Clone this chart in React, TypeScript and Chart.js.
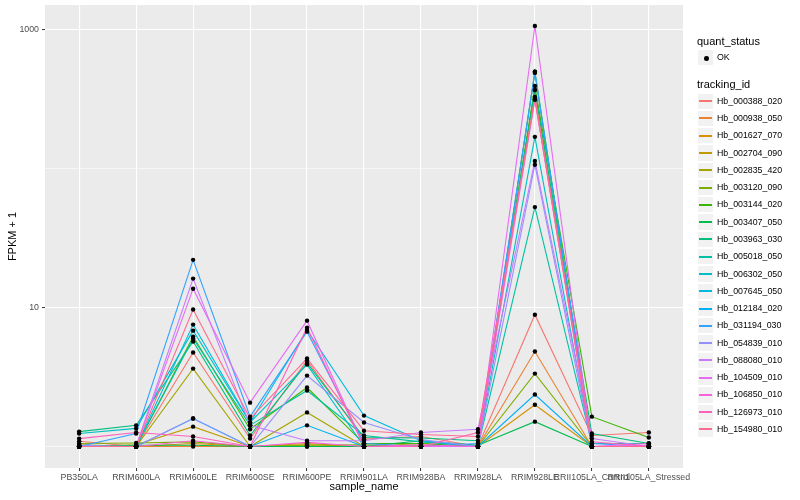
import React, { useEffect, useRef } from "react";
import { Chart, registerables } from "chart.js";

Chart.register(...registerables);

const categories = [
  "PB350LA",
  "RRIM600LA",
  "RRIM600LE",
  "RRIM600SE",
  "RRIM600PE",
  "RRIM901LA",
  "RRIM928BA",
  "RRIM928LA",
  "RRIM928LE",
  "RRII105LA_Control",
  "RRII105LA_Stressed",
];

const trackingIds = [
  "Hb_000388_020",
  "Hb_000938_050",
  "Hb_001627_070",
  "Hb_002704_090",
  "Hb_002835_420",
  "Hb_003120_090",
  "Hb_003144_020",
  "Hb_003407_050",
  "Hb_003963_030",
  "Hb_005018_050",
  "Hb_006302_050",
  "Hb_007645_050",
  "Hb_012184_020",
  "Hb_031194_030",
  "Hb_054839_010",
  "Hb_088080_010",
  "Hb_104509_010",
  "Hb_106850_010",
  "Hb_126973_010",
  "Hb_154980_010",
];

const seriesColors = [
  "#F8766D", "#EA8331", "#D89000", "#C09B00", "#A3A500",
  "#7CAE00", "#39B600", "#00BB4E", "#00BF7D", "#00C1A3",
  "#00BFC4", "#00BAE0", "#00B0F6", "#35A2FF", "#9590FF",
  "#C77CFF", "#E76BF3", "#FA62DB", "#FF62BC", "#FF6C91",
];

// FPKM + 1 per sample, in category order
const hb_000388_020 = [1.09, 1.0, 4.75, 1.14, 4.16, 1.13, 1.18, 1.0, 8.9, 1.2, 1.26];
const hb_000938_050 = [1.0, 1.0, 1.0, 1.0, 1.0, 1.0, 1.0, 1.0, 4.83, 1.0, 1.0];
const hb_001627_070 = [1.0, 1.0, 1.05, 1.0, 1.03, 1.0, 1.0, 1.0, 2.0, 1.0, 1.0];
const hb_002704_090 = [1.0, 1.03, 1.39, 1.0, 1.05, 1.0, 1.02, 1.0, 370, 1.0, 1.0];
const hb_002835_420 = [1.03, 1.0, 3.64, 1.0, 1.76, 1.0, 1.05, 1.0, 500, 1.0, 1.0];
const hb_003120_090 = [1.05, 1.06, 1.08, 1.0, 1.02, 1.03, 1.0, 1.0, 3.35, 1.0, 1.0];
const hb_003144_020 = [1.0, 1.0, 6.19, 1.33, 2.66, 1.05, 1.05, 1.0, 395, 1.64, 1.16];
const hb_003407_050 = [1.0, 1.02, 1.02, 1.0, 1.0, 1.0, 1.1, 1.02, 1.51, 1.0, 1.0];
const hb_003963_030 = [1.28, 1.42, 5.7, 1.2, 4.0, 1.16, 1.15, 1.1, 370, 1.24, 1.05];
const hb_005018_050 = [1.0, 1.0, 6.0, 1.42, 2.53, 1.2, 1.08, 1.0, 53, 1.05, 1.05];
const hb_006302_050 = [1.24, 1.35, 6.83, 1.49, 3.89, 1.0, 1.0, 1.0, 170, 1.0, 1.0];
const hb_007645_050 = [1.0, 1.0, 7.55, 1.49, 6.9, 1.67, 1.1, 1.0, 491, 1.0, 1.0];
const hb_012184_020 = [1.0, 1.0, 1.59, 1.0, 1.42, 1.0, 1.0, 1.0, 2.37, 1.0, 1.0];
const hb_031194_030 = [1.0, 1.24, 22.1, 1.64, 6.72, 1.05, 1.0, 1.05, 500, 1.05, 1.0];
const hb_054839_010 = [1.02, 1.0, 1.59, 1.0, 3.24, 1.49, 1.12, 1.0, 107, 1.0, 1.0];
const hb_088080_010 = [1.0, 1.0, 16.2, 1.42, 1.1, 1.1, 1.26, 1.33, 114, 1.14, 1.0];
const hb_104509_010 = [1.0, 1.0, 13.7, 2.07, 8.06, 1.0, 1.0, 1.0, 1069, 1.0, 1.02];
const hb_106850_010 = [1.0, 1.0, 1.1, 1.0, 1.07, 1.0, 1.03, 1.0, 319, 1.0, 1.05];
const hb_126973_010 = [1.14, 1.26, 1.18, 1.0, 7.18, 1.0, 1.0, 1.26, 314, 1.08, 1.0];
const hb_154980_010 = [1.0, 1.0, 9.7, 1.59, 4.3, 1.3, 1.22, 1.18, 330, 1.0, 1.0];

const seriesValues = [
  hb_000388_020, hb_000938_050, hb_001627_070, hb_002704_090, hb_002835_420,
  hb_003120_090, hb_003144_020, hb_003407_050, hb_003963_030, hb_005018_050,
  hb_006302_050, hb_007645_050, hb_012184_020, hb_031194_030, hb_054839_010,
  hb_088080_010, hb_104509_010, hb_106850_010, hb_126973_010, hb_154980_010,
];

const yGridValues = [1, 10, 100, 1000];
const yLabelledValues = [10, 1000];
const yMin = 0.706;
const yMax = 1514;

const FONT = "'Liberation Sans', Arial, Helvetica, sans-serif";

const panelBackground = {
  id: "panelBackground",
  beforeDraw(chart: any) {
    const { ctx, chartArea } = chart;
    if (!chartArea) return;
    ctx.save();
    ctx.fillStyle = "#EBEBEB";
    ctx.fillRect(chartArea.left, chartArea.top, chartArea.right - chartArea.left, chartArea.bottom - chartArea.top);
    ctx.restore();
  },
};

function Legend() {
  const keySize = 17.28;
  const left = 697;
  const textLeft = 717;
  const box: React.CSSProperties = {
    position: "absolute",
    left,
    width: keySize,
    height: keySize,
    background: "#F2F2F2",
    boxSizing: "border-box",
    border: "0.5px solid #FFFFFF",
  };
  const label = (top: number, h: number, size: number): React.CSSProperties => ({
    position: "absolute",
    left: textLeft,
    top,
    height: h,
    display: "flex",
    alignItems: "center",
    fontSize: size,
    lineHeight: 1,
    color: "#000",
    whiteSpace: "nowrap",
  });
  const itemsTop = 92.5;
  return (
    <div style={{ position: "absolute", left: 0, top: 0, width: 800, height: 500, pointerEvents: "none", fontFamily: FONT }}>
      <div style={{ position: "absolute", left, top: 34, height: 14, display: "flex", alignItems: "center", fontSize: 11, lineHeight: 1, color: "#000" }}>
        quant_status
      </div>
      <div style={{ ...box, top: 49 }}>
        <div style={{ position: "absolute", left: keySize / 2 - 2.3, top: keySize / 2 - 2.3, width: 4.6, height: 4.6, borderRadius: "50%", background: "#000" }} />
      </div>
      <div style={label(49, keySize, 8.8)}>OK</div>
      <div style={{ position: "absolute", left, top: 77, height: 14, display: "flex", alignItems: "center", fontSize: 11, lineHeight: 1, color: "#000" }}>
        tracking_id
      </div>
      {trackingIds.map((id, i) => {
        const top = itemsTop + i * keySize;
        const lineTop = Math.round(top + keySize / 2) - 1;
        return (
          <React.Fragment key={id}>
            <div style={{ ...box, top }} />
            <div style={{ position: "absolute", left: left + 2, width: keySize - 4, top: lineTop, height: 1.5, background: seriesColors[i] }} />
            <div style={label(top, keySize, 8.8)}>{id}</div>
          </React.Fragment>
        );
      })}
    </div>
  );
}

export default function App() {
  const canvasRef = useRef<HTMLCanvasElement | null>(null);

  useEffect(() => {
    if (!canvasRef.current) return;
    Chart.defaults.font.family = FONT;

    const lineDatasets = seriesValues.map((vals, i) => ({
      type: "line" as const,
      label: trackingIds[i],
      data: vals.map((v, j) => ({ x: j, y: v })),
      borderColor: seriesColors[i],
      backgroundColor: seriesColors[i],
      borderWidth: 1.1,
      pointRadius: 0,
      fill: false,
      tension: 0,
      order: 30 - i,
    }));

    const pointDataset = {
      type: "scatter" as const,
      label: "OK",
      data: seriesValues.flatMap((vals) => vals.map((v, j) => ({ x: j, y: v }))),
      backgroundColor: "#000000",
      borderColor: "#000000",
      borderWidth: 0,
      pointRadius: 2.2,
      order: 0,
    };

    const chart = new Chart(canvasRef.current, {
      type: "line",
      data: { datasets: [...lineDatasets, pointDataset] as any },
      options: {
        animation: false,
        responsive: false,
        devicePixelRatio: 1,
        layout: { padding: { left: 0, right: 117, top: 5, bottom: 0 } },
        plugins: {
          legend: { display: false },
          tooltip: { enabled: false },
        },
        scales: {
          x: {
            type: "linear",
            min: -0.6,
            max: 10.6,
            afterBuildTicks: (scale: any) => {
              scale.ticks = categories.map((_, i) => ({ value: i }));
            },
            afterFit: (scale: any) => {
              scale.height = 32;
              scale.paddingLeft = 0;
              scale.paddingRight = 0;
            },
            ticks: {
              callback: (v: any) => categories[v as number] ?? "",
              autoSkip: false,
              maxRotation: 0,
              minRotation: 0,
              color: "#4D4D4D",
              font: { size: 8.8 },
              padding: 1,
            },
            grid: {
              color: "#FFFFFF",
              lineWidth: 1.1,
              tickColor: "#333333",
              tickLength: 3,
              tickWidth: 1,
            },
            border: { display: false },
            title: {
              display: true,
              text: "sample_name",
              color: "#000000",
              font: { size: 11 },
              padding: { top: 0, bottom: 6 },
            },
          },
          y: {
            type: "logarithmic",
            min: yMin,
            max: yMax,
            afterBuildTicks: (scale: any) => {
              scale.ticks = yGridValues.map((v) => ({ value: v }));
            },
            afterFit: (scale: any) => {
              scale.width = 45;
              scale.paddingTop = 0;
              scale.paddingBottom = 0;
            },
            ticks: {
              callback: (v: any) => (yLabelledValues.includes(Number(v)) ? String(v) : ""),
              color: "#4D4D4D",
              font: { size: 8.8 },
              padding: 3,
            },
            grid: {
              color: "#FFFFFF",
              lineWidth: (ctx: any) => (ctx.tick && yLabelledValues.includes(ctx.tick.value) ? 1.1 : 0.55),
              tickColor: (ctx: any) => (ctx.tick && yLabelledValues.includes(ctx.tick.value) ? "#333333" : "rgba(0,0,0,0)"),
              tickLength: 3,
              tickWidth: 1,
            },
            border: { display: false },
            title: {
              display: true,
              text: "FPKM + 1",
              color: "#000000",
              font: { size: 11 },
              padding: { top: 6, bottom: 0 },
            },
          },
        },
      },
      plugins: [panelBackground],
    });

    return () => chart.destroy();
  }, []);

  return (
    <div style={{ position: "absolute", left: 0, top: 0, width: 800, height: 500, background: "#FFFFFF" }}>
      <canvas ref={canvasRef} width={800} height={500} style={{ display: "block" }} />
      <Legend />
    </div>
  );
}
